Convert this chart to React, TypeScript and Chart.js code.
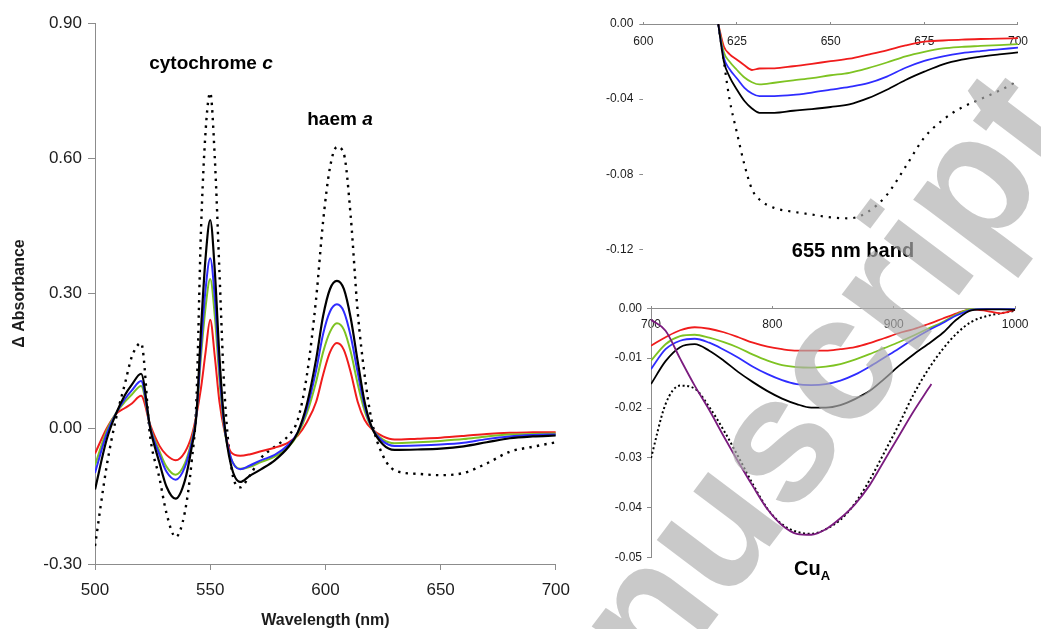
import React, { useEffect, useRef } from "react";
import { Chart, registerables } from "chart.js";

Chart.register(...registerables);

const FONT = "'Liberation Sans', Arial, Helvetica, sans-serif";
const AXIS_GREY = "#8c8c8c";
const TEXT = "#1c1c1c";

const RED = "#f01c1c";
const GREEN = "#7ec322";
const BLUE = "#2f2cff";
const BLACK = "#000000";
const PURPLE = "#7b1c7f";

// ---- Main difference spectrum, 500–700 nm ----
const mainWavelengths = [
  500, 505, 509, 513, 516, 520, 524, 528, 531, 535, 539, 542, 544, 546, 548,
  550, 552, 554, 556, 559, 563, 567, 572, 578, 584, 588, 592, 596, 599, 602,
  605, 608, 611, 614, 617, 620, 625, 630, 640, 650, 660, 670, 680, 690, 700,
];
const mainDotted = [
  -0.26, -0.085, 0.02, 0.1, 0.16, 0.19, -0.02, -0.11, -0.187, -0.24, -0.185, -0.07, 0.06, 0.44, 0.66,
  0.745, 0.6, 0.35, 0.1, -0.08, -0.13, -0.105, -0.065, -0.04, -0.015, 0.02, 0.12, 0.29, 0.46, 0.58,
  0.625, 0.61, 0.47, 0.26, 0.12, 0.02, -0.06, -0.092, -0.1, -0.103, -0.098, -0.077, -0.051, -0.04, -0.03,
];
const mainBlack = [
  -0.135, -0.025, 0.032, 0.075, 0.098, 0.122, 0.0, -0.076, -0.128, -0.155, -0.115, -0.04, 0.03, 0.22, 0.38,
  0.463, 0.35, 0.16, 0.02, -0.08, -0.118, -0.105, -0.09, -0.07, -0.04, -0.008, 0.055, 0.155, 0.25, 0.31,
  0.328, 0.31, 0.245, 0.15, 0.06, 0.005, -0.035, -0.047, -0.046, -0.044, -0.039, -0.03, -0.021, -0.017, -0.015,
];
const mainBlue = [
  -0.098, -0.012, 0.033, 0.066, 0.085, 0.106, 0.002, -0.058, -0.095, -0.113, -0.085, -0.03, 0.03, 0.18, 0.31,
  0.378, 0.29, 0.13, 0.01, -0.065, -0.09, -0.082, -0.07, -0.058, -0.035, -0.008, 0.045, 0.13, 0.21, 0.26,
  0.276, 0.26, 0.205, 0.125, 0.05, 0.004, -0.028, -0.038, -0.037, -0.035, -0.031, -0.023, -0.017, -0.014, -0.0125,
];
const mainGreen = [
  -0.081, -0.005, 0.034, 0.06, 0.076, 0.095, 0.004, -0.05, -0.084, -0.102, -0.077, -0.025, 0.03, 0.16, 0.27,
  0.332, 0.25, 0.11, 0.005, -0.065, -0.089, -0.085, -0.074, -0.062, -0.04, -0.012, 0.035, 0.105, 0.17, 0.215,
  0.234, 0.22, 0.17, 0.1, 0.04, 0.003, -0.024, -0.032, -0.03, -0.027, -0.023, -0.017, -0.013, -0.0117, -0.0107,
];
const mainRed = [
  -0.055, 0.0, 0.032, 0.046, 0.056, 0.073, 0.008, -0.038, -0.058, -0.07, -0.052, -0.015, 0.03, 0.09, 0.17,
  0.242, 0.16, 0.06, 0.0, -0.052, -0.06, -0.057, -0.05, -0.042, -0.03, -0.015, 0.015, 0.06, 0.12, 0.17,
  0.19, 0.175, 0.125, 0.06, 0.02, 0.0, -0.017, -0.024, -0.022, -0.0198, -0.016, -0.0115, -0.0088, -0.008, -0.0075,
];
const mainXTicks = [500, 550, 600, 650, 700];
const mainYTicks = [-0.3, 0, 0.3, 0.6, 0.9];

// ---- 655 nm band, 620–700 nm ----
const bandWavelengths = [
  620, 621.5, 623, 625, 627, 629, 631, 635, 640, 645, 650, 655, 660, 665, 670, 675, 680, 685, 690, 695, 700,
];
const bandDotted = [
  0, -0.02, -0.04, -0.058, -0.075, -0.088, -0.0935, -0.098, -0.1, -0.1015, -0.103, -0.1035, -0.1, -0.091,
  -0.076, -0.0605, -0.051, -0.0445, -0.04, -0.0355, -0.0304,
];
const bandBlack = [
  0, -0.02, -0.028, -0.035, -0.041, -0.045, -0.0473, -0.0473, -0.0462, -0.0453, -0.0442, -0.0428, -0.0395,
  -0.035, -0.0298, -0.0254, -0.0215, -0.019, -0.0174, -0.0162, -0.0151,
];
const bandBlue = [
  0, -0.018, -0.024, -0.029, -0.034, -0.037, -0.0384, -0.0384, -0.0378, -0.0365, -0.035, -0.0335, -0.0315,
  -0.028, -0.0233, -0.0196, -0.0172, -0.0155, -0.0144, -0.0135, -0.0126,
];
const bandGreen = [
  0, -0.015, -0.02, -0.0245, -0.0285, -0.031, -0.0322, -0.0313, -0.03, -0.0288, -0.0273, -0.026, -0.0235,
  -0.0205, -0.0172, -0.0148, -0.013, -0.0122, -0.0117, -0.0112, -0.0107,
];
const bandRed = [
  0, -0.012, -0.016, -0.019, -0.022, -0.0245, -0.0237, -0.0236, -0.0225, -0.0212, -0.0198, -0.0185, -0.0163,
  -0.014, -0.0114, -0.0094, -0.0088, -0.0083, -0.008, -0.0078, -0.0075,
];
const bandXTicks = [600, 625, 650, 675, 700];
const bandYTicks = [0, -0.04, -0.08, -0.12];

// ---- CuA region, 700–1000 nm ----
const cuaWavelengths = [
  700, 712, 724, 736, 748, 760, 772, 784, 796, 808, 820, 832, 844, 856, 868, 880, 892, 904, 916, 928, 940,
  952, 964, 976, 988, 1000,
];
const cuaDotted = [
  -0.03, -0.0192, -0.0155, -0.0161, -0.0198, -0.0245, -0.0298, -0.0353, -0.0402, -0.0433, -0.0448, -0.0452,
  -0.0443, -0.0424, -0.0391, -0.0345, -0.029, -0.0234, -0.0174, -0.0124, -0.0083, -0.005, -0.0027, -0.0016,
  -0.001, -0.0005,
];
const cuaBlack = [
  -0.0152, -0.0106, -0.0078, -0.0072, -0.0085, -0.0105, -0.0128, -0.0148, -0.0166, -0.0181, -0.0192, -0.0199,
  -0.0199, -0.0194, -0.0182, -0.0166, -0.0142, -0.0116, -0.0093, -0.0072, -0.005, -0.0022, -0.0004, -0.0002,
  -0.0002, -0.0003,
];
const cuaBlue = [
  -0.0122, -0.0082, -0.0065, -0.0061, -0.0069, -0.0083, -0.0099, -0.0117, -0.0132, -0.0144, -0.0152, -0.0154,
  -0.0152, -0.0145, -0.0133, -0.0117, -0.0099, -0.0081, -0.0062, -0.0045, -0.003, -0.0014, -0.0003, -0.0001,
  -0.0001, -0.0001,
];
const cuaGreen = [
  -0.0105, -0.0072, -0.0056, -0.0053, -0.0059, -0.0068, -0.0079, -0.0093, -0.0105, -0.0114, -0.0118, -0.0119,
  -0.0117, -0.0112, -0.0103, -0.0092, -0.008, -0.0068, -0.0055, -0.0041, -0.0028, -0.0012, -0.0001, 0.0,
  -0.0001, -0.0001,
];
const cuaRed = [
  -0.0075, -0.0058, -0.0044, -0.0038, -0.0041, -0.0048, -0.0058, -0.0069, -0.0077, -0.0082, -0.0085, -0.0085,
  -0.0085, -0.0082, -0.0078, -0.007, -0.006, -0.005, -0.0042, -0.0032, -0.0021, -0.001, -0.0002, -0.0005,
  -0.001, -0.0003,
];
const cuaPurpleWavelengths = [
  700, 712, 724, 736, 748, 760, 772, 784, 796, 808, 820, 832, 844, 856, 868, 880, 892, 904, 916, 928, 931,
];
const cuaPurple = [
  -0.0023, -0.0045, -0.0101, -0.0155, -0.0204, -0.0257, -0.0308, -0.0357, -0.0403, -0.0435, -0.0452, -0.0454,
  -0.0443, -0.0421, -0.0393, -0.0355, -0.0306, -0.0257, -0.0208, -0.0163, -0.0152,
];
const cuaXTicks = [700, 800, 900, 1000];
const cuaYTicks = [0, -0.01, -0.02, -0.03, -0.04, -0.05];

const pts = (xs: number[], ys: number[]) => ys.map((y, i) => ({ x: xs[i], y }));

function trace(label: string, xs: number[], ys: number[], color: string, width: number, dash: number[] = []) {
  return {
    label,
    data: pts(xs, ys),
    borderColor: color,
    backgroundColor: color,
    borderWidth: width,
    borderDash: dash,
    borderCapStyle: "butt" as const,
    borderJoinStyle: "round" as const,
    pointRadius: 0,
    fill: false,
    cubicInterpolationMode: "monotone" as const,
  };
}

const fixedTicks = (values: number[]) => (scale: any) => {
  scale.ticks = values.map((v) => ({ value: v }));
};

const fmt2 = (v: any) => Number(v).toFixed(2);

function buildMain(): any {
  return {
    type: "line",
    data: {
      datasets: [
        trace("reduced", mainWavelengths, mainBlack, BLACK, 2.2),
        trace("blue", mainWavelengths, mainBlue, BLUE, 2),
        trace("green", mainWavelengths, mainGreen, GREEN, 2),
        trace("red", mainWavelengths, mainRed, RED, 2),
        trace("fully reduced", mainWavelengths, mainDotted, BLACK, 2.4, [2.4, 5.2]),
      ],
    },
    options: {
      responsive: false,
      maintainAspectRatio: false,
      animation: false,
      layout: { autoPadding: false, padding: { left: 0, top: 23, right: 22, bottom: 0 } },
      plugins: { legend: { display: false }, tooltip: { enabled: false } },
      scales: {
        x: {
          type: "linear",
          min: 500,
          max: 700,
          afterBuildTicks: fixedTicks(mainXTicks),
          afterFit: (s: any) => {
            s.height = 65;
          },
          ticks: {
            font: { family: FONT, size: 17 },
            color: TEXT,
            padding: 10,
            maxRotation: 0,
            autoSkip: false,
            callback: (v: any) => String(v),
          },
          grid: { display: true, drawOnChartArea: false, drawTicks: true, tickLength: 6, color: AXIS_GREY },
          border: { display: true, color: AXIS_GREY, width: 1 },
          title: {
            display: true,
            text: "Wavelength (nm)",
            font: { family: FONT, size: 16, weight: "bold" },
            color: TEXT,
            padding: { top: 0, bottom: -1 },
          },
        },
        y: {
          type: "linear",
          min: -0.3,
          max: 0.9,
          afterBuildTicks: fixedTicks(mainYTicks),
          afterFit: (s: any) => {
            s.width = 95;
          },
          ticks: { font: { family: FONT, size: 17 }, color: TEXT, padding: 6, callback: fmt2 },
          grid: { display: true, drawOnChartArea: false, drawTicks: true, tickLength: 7, color: AXIS_GREY },
          border: { display: true, color: AXIS_GREY, width: 1 },
          title: {
            display: true,
            text: "Δ Absorbance",
            font: { family: FONT, size: 16, weight: "bold" },
            color: TEXT,
            padding: { top: 10, bottom: 0 },
          },
        },
      },
    },
  };
}

function buildBand(): any {
  return {
    type: "line",
    data: {
      datasets: [
        trace("reduced", bandWavelengths, bandBlack, BLACK, 1.8),
        trace("blue", bandWavelengths, bandBlue, BLUE, 1.8),
        trace("green", bandWavelengths, bandGreen, GREEN, 1.8),
        trace("red", bandWavelengths, bandRed, RED, 1.8),
        trace("fully reduced", bandWavelengths, bandDotted, BLACK, 2.2, [2.2, 6]),
      ],
    },
    options: {
      responsive: false,
      maintainAspectRatio: false,
      animation: false,
      layout: { autoPadding: false, padding: { left: 0, top: 24, right: 10.3, bottom: 40.7 } },
      plugins: { legend: { display: false }, tooltip: { enabled: false } },
      scales: {
        x: {
          type: "linear",
          min: 600,
          max: 700,
          position: { y: 0 },
          afterBuildTicks: fixedTicks(bandXTicks),
          ticks: {
            font: { family: FONT, size: 12 },
            color: TEXT,
            padding: 13,
            maxRotation: 0,
            autoSkip: false,
            callback: (v: any) => String(v),
          },
          grid: { display: true, drawOnChartArea: false, drawTicks: true, tickLength: -3, color: AXIS_GREY },
          border: { display: true, color: AXIS_GREY, width: 1 },
        },
        y: {
          type: "linear",
          min: -0.12,
          max: 0,
          afterBuildTicks: fixedTicks(bandYTicks),
          afterFit: (s: any) => {
            s.width = 63.3;
          },
          ticks: { font: { family: FONT, size: 12 }, color: TEXT, padding: 6, callback: fmt2 },
          grid: { display: true, drawOnChartArea: false, drawTicks: true, tickLength: 4, color: AXIS_GREY },
          border: { display: false },
        },
      },
    },
  };
}

function buildCuA(): any {
  return {
    type: "line",
    data: {
      datasets: [
        trace("purple", cuaPurpleWavelengths, cuaPurple, PURPLE, 1.8),
        trace("reduced", cuaWavelengths, cuaBlack, BLACK, 1.8),
        trace("blue", cuaWavelengths, cuaBlue, BLUE, 1.8),
        trace("green", cuaWavelengths, cuaGreen, GREEN, 1.8),
        trace("red", cuaWavelengths, cuaRed, RED, 1.8),
        trace("fully reduced", cuaWavelengths, cuaDotted, BLACK, 2, [2, 2.6]),
      ],
    },
    options: {
      responsive: false,
      maintainAspectRatio: false,
      animation: false,
      layout: { autoPadding: false, padding: { left: 0, top: 18.3, right: 13.3, bottom: 71.3 } },
      plugins: { legend: { display: false }, tooltip: { enabled: false } },
      scales: {
        x: {
          type: "linear",
          min: 700,
          max: 1000,
          position: { y: 0 },
          afterBuildTicks: fixedTicks(cuaXTicks),
          ticks: {
            font: { family: FONT, size: 12 },
            color: TEXT,
            padding: 12.5,
            maxRotation: 0,
            autoSkip: false,
            callback: (v: any) => String(v),
          },
          grid: { display: true, drawOnChartArea: false, drawTicks: true, tickLength: -3, color: AXIS_GREY },
          border: { display: true, color: AXIS_GREY, width: 1 },
        },
        y: {
          type: "linear",
          min: -0.05,
          max: 0,
          afterBuildTicks: fixedTicks(cuaYTicks),
          afterFit: (s: any) => {
            s.width = 71;
          },
          ticks: { font: { family: FONT, size: 12 }, color: TEXT, padding: 5, callback: fmt2 },
          grid: { display: true, drawOnChartArea: false, drawTicks: true, tickLength: 4, color: AXIS_GREY },
          border: { display: true, color: AXIS_GREY, width: 1 },
        },
      },
    },
  };
}

function ChartCanvas(props: { build: () => any; left: number; top: number; width: number; height: number }) {
  const ref = useRef<HTMLCanvasElement | null>(null);
  useEffect(() => {
    if (!ref.current) return;
    const chart = new Chart(ref.current, props.build());
    return () => chart.destroy();
  }, []);
  return (
    <canvas
      ref={ref}
      width={props.width}
      height={props.height}
      style={{
        position: "absolute",
        left: props.left,
        top: props.top,
        width: props.width,
        height: props.height,
      }}
    />
  );
}

const label = (extra: React.CSSProperties): React.CSSProperties => ({
  position: "absolute",
  transform: "translate(-50%, -50%)",
  fontFamily: FONT,
  fontWeight: "bold",
  color: "#000",
  whiteSpace: "nowrap",
  lineHeight: 1,
  ...extra,
});

export default function App() {
  return (
    <div
      style={{
        position: "fixed",
        left: 0,
        top: 0,
        width: 1041,
        height: 629,
        overflow: "hidden",
        background: "#fff",
      }}
    >
      <ChartCanvas build={buildMain} left={0} top={0} width={580} height={629} />
      <ChartCanvas build={buildBand} left={580} top={0} width={461} height={290} />
      <ChartCanvas build={buildCuA} left={580} top={290} width={461} height={339} />

      <div style={label({ left: 211, top: 62, fontSize: 19 })}>
        cytochrome <i>c</i>
      </div>
      <div style={label({ left: 340, top: 118, fontSize: 19 })}>
        haem <i>a</i>
      </div>
      <div style={label({ left: 853, top: 250, fontSize: 20 })}>655 nm band</div>
      <div style={label({ left: 812, top: 570, fontSize: 20 })}>
        Cu<sub style={{ fontSize: 13, verticalAlign: "-0.35em" }}>A</sub>
      </div>

      <div
        style={{
          position: "absolute",
          left: 745,
          top: 478,
          transform: "translate(-50%, -50%) rotate(-53deg)",
          fontFamily: FONT,
          fontWeight: "bold",
          fontSize: 178,
          lineHeight: 1,
          color: "rgba(175,175,175,0.68)",
          whiteSpace: "nowrap",
          pointerEvents: "none",
        }}
      >
        manuscript
      </div>
    </div>
  );
}
